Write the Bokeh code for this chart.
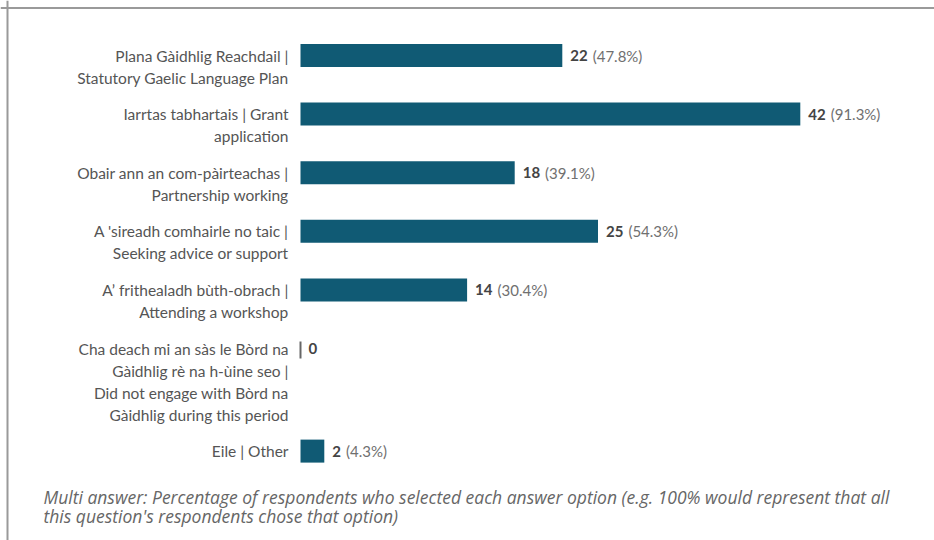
from bokeh.plotting import figure
from bokeh.models import ColumnDataSource, Range1d, Span
from bokeh.core.properties import value
from bokeh.embed import file_html
from bokeh.resources import INLINE

# ---------------- data ----------------
labels = [
    ["Plana Gàidhlig Reachdail |", "Statutory Gaelic Language Plan"],
    ["Iarrtas tabhartais | Grant", "application"],
    ["Obair ann an com-pàirteachas |", "Partnership working"],
    ["A 'sireadh comhairle no taic |", "Seeking advice or support"],
    ["A’ frithealadh bùth-obrach |", "Attending a workshop"],
    ["Cha deach mi an sàs le Bòrd na", "Gàidhlig rè na h-ùine seo |",
     "Did not engage with Bòrd na", "Gàidhlig during this period"],
    ["Eile | Other"],
]
counts = [22, 42, 18, 25, 14, 0, 2]
percents = ["(47.8%)", "(91.3%)", "(39.1%)", "(54.3%)", "(30.4%)", "", "(4.3%)"]
footnote = [
    "Multi answer: Percentage of respondents who selected each answer option (e.g. 100% would represent that all",
    "this question's respondents chose that option)",
]

# ---------------- layout constants ----------------
W, H = 934, 540          # figure size
ORG = 0                  # picture coordinate of the canvas origin
X0 = 300                 # picture x of the value 0
PX = 11.9                # pixels per respondent
FIRST = 55               # centre of first row
LH = 22                  # label line height
GAP = 14.6               # gap between rows
BAR_H = 23

BAR = "#105a74"
LABEL = "#555555"
NUM = "#444444"
PCT = "#707070"
FOOT = "#666666"

# row centres derived from the number of label lines
centres = []
y = FIRST
for lines in labels:
    centres.append(y)
    y += len(lines) * LH + GAP

p = figure(width=W, height=H, output_backend="svg", toolbar_location=None,
           x_range=Range1d((ORG - X0) / PX, (ORG + W - X0) / PX),
           y_range=Range1d(ORG + H, ORG),
           min_border=0, min_border_left=0, min_border_right=0,
           min_border_top=0, min_border_bottom=0)
p.axis.visible = False
p.grid.visible = False
p.outline_line_color = None
p.background_fill_color = "white"
p.border_fill_color = "white"

# frame lines (top and left)
p.add_layout(Span(location=7.5, dimension="width", line_color="#9a9a9a", line_width=2))
p.add_layout(Span(location=(7 - X0) / PX, dimension="height", line_color="#9a9a9a", line_width=2))

# bars
nz = [i for i, c in enumerate(counts) if c > 0]
bars = ColumnDataSource(dict(y=[centres[i] for i in nz], right=[counts[i] for i in nz]))
p.hbar(y="y", left=0, right="right", height=BAR_H, source=bars,
       fill_color=BAR, line_color=None)

z = [i for i, c in enumerate(counts) if c == 0]
zs = ColumnDataSource(dict(x=[counts[i] for i in z],
                           y0=[centres[i] - 7 for i in z],
                           y1=[centres[i] + 10 for i in z]))
p.segment(x0="x", y0="y0", x1="x", y1="y1", source=zs, line_color="#666666", line_width=2)

# category labels, one glyph row per line
lx, ly, lt = [], [], []
for c, lines in zip(centres, labels):
    for k, t in enumerate(lines):
        lx.append(0)
        ly.append(c + k * LH)
        lt.append(t)
lsrc = ColumnDataSource(dict(x=lx, y=ly, text=lt))
p.text(x="x", y="y", text="text", source=lsrc, x_offset=-12,
       text_align="right", text_baseline="middle",
       text_font=value("Lato"), text_font_size="15.5px", text_color=LABEL)

# value labels
nsrc = ColumnDataSource(dict(x=counts, y=centres, text=[str(c) for c in counts]))
p.text(x="x", y="y", text="text", source=nsrc, x_offset=8,
       text_align="left", text_baseline="middle",
       text_font=value("Lato"), text_font_size="15px", text_font_style="bold",
       text_color=NUM)

psrc = ColumnDataSource(dict(x=counts, y=centres, text=percents,
                             off=[8 + len(str(c)) * 8.7 + 5 for c in counts]))
p.text(x="x", y="y", text="text", source=psrc, x_offset="off",
       text_align="left", text_baseline="middle",
       text_font=value("Lato"), text_font_size="15px", text_color=PCT)

# footnote
fsrc = ColumnDataSource(dict(x=[0] * len(footnote),
                             y=[496 + k * 19 for k in range(len(footnote))],
                             text=footnote))
p.text(x="x", y="y", text="text", source=fsrc, x_offset=43 - X0,
       text_align="left", text_baseline="middle",
       text_font=value("Open Sans"), text_font_size="17.5px", text_font_style="italic",
       text_color=FOOT)

open("out.html", "w").write(file_html(p, INLINE))
